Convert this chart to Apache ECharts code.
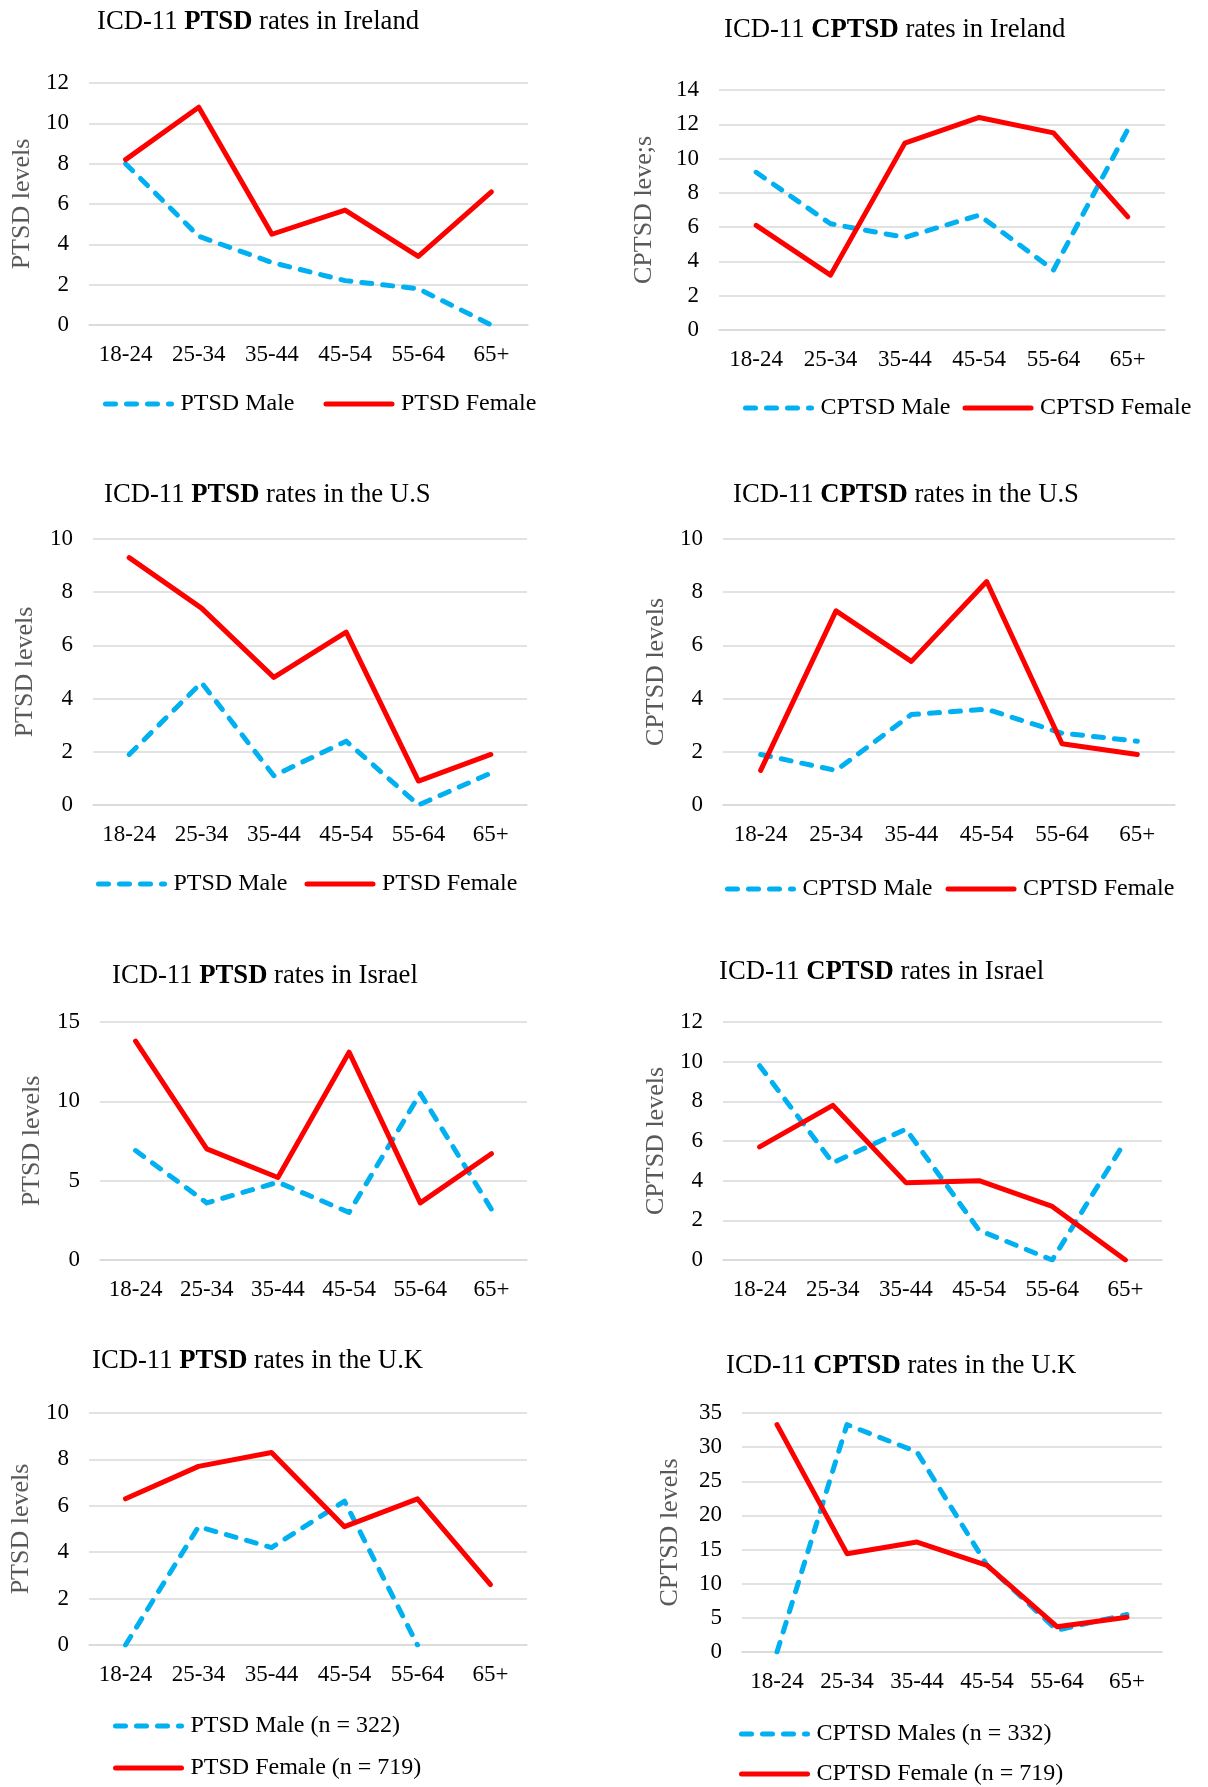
<!DOCTYPE html>
<html>
<head>
<meta charset="utf-8">
<script src="https://cdn.jsdelivr.net/npm/echarts@6/dist/echarts.min.js"></script>
<style>
  html, body { margin: 0; padding: 0; background: #fff; }
  #main { width: 1208px; height: 1787px; }
</style>
</head>
<body>
<div id="main"></div>
<script>
// age groups on the x axis
var ageGroups = ['18-24', '25-34', '35-44', '45-54', '55-64', '65+'];

// Ireland
var irelandPtsdMale = [8.0, 4.4, 3.1, 2.2, 1.8, 0];
var irelandPtsdFemale = [8.2, 10.8, 4.5, 5.7, 3.4, 6.6];
var irelandCptsdMale = [9.2, 6.2, 5.4, 6.7, 3.5, 11.7];
var irelandCptsdFemale = [6.1, 3.2, 10.9, 12.4, 11.5, 6.6];

// U.S
var usPtsdMale = [1.9, 4.6, 1.1, 2.4, 0, 1.2];
var usPtsdFemale = [9.3, 7.4, 4.8, 6.5, 0.9, 1.9];
var usCptsdMale = [1.9, 1.3, 3.4, 3.6, 2.7, 2.4];
var usCptsdFemale = [1.3, 7.3, 5.4, 8.4, 2.3, 1.9];

// Israel
var israelPtsdMale = [6.9, 3.6, 4.9, 3.0, 10.5, 3.2];
var israelPtsdFemale = [13.8, 7.0, 5.2, 13.1, 3.6, 6.7];
var israelCptsdMale = [9.8, 4.9, 6.6, 1.5, 0, 6.0];
var israelCptsdFemale = [5.7, 7.8, 3.9, 4.0, 2.7, 0];

// U.K
var ukPtsdMale = [0, 5.1, 4.2, 6.2, 0, null];
var ukPtsdFemale = [6.3, 7.7, 8.3, 5.1, 6.3, 2.6];
var ukCptsdMale = [0, 33.3, 29.3, 12.7, 3.2, 5.5];
var ukCptsdFemale = [33.3, 14.4, 16.1, 12.7, 3.7, 5.1];

var FONT = '"Liberation Serif", "Times New Roman", serif';
var BLUE = '#00B0F0';
var RED = '#FF0000';

// layout of each of the 8 small charts (pixels)
var panels = [
  { title: 'ICD-11 {b|PTSD} rates in Ireland', tx: 97, ty: 22, grid: [89, 83, 439, 242],
    yMax: 12, yStep: 2, yName: 'PTSD levels', nameGap: 54,
    male: irelandPtsdMale, female: irelandPtsdFemale, maleName: 'PTSD Male', femaleName: 'PTSD Female',
    legend: { left: 103, y: 406, gap: 29 } },
  { title: 'ICD-11 {b|CPTSD} rates in Ireland', tx: 724, ty: 30, grid: [719, 90, 446, 240],
    yMax: 14, yStep: 2, yName: 'CPTSD leve;s', nameGap: 62,
    male: irelandCptsdMale, female: irelandCptsdFemale, maleName: 'CPTSD Male', femaleName: 'CPTSD Female',
    legend: { left: 743, y: 410, gap: 12 } },
  { title: 'ICD-11 {b|PTSD} rates in the U.S', tx: 104, ty: 495, grid: [93, 539, 434, 266],
    yMax: 10, yStep: 2, yName: 'PTSD levels', nameGap: 55,
    male: usPtsdMale, female: usPtsdFemale, maleName: 'PTSD Male', femaleName: 'PTSD Female',
    legend: { left: 96, y: 886, gap: 17 } },
  { title: 'ICD-11 {b|CPTSD} rates in the U.S', tx: 733, ty: 495, grid: [723, 539, 452, 266],
    yMax: 10, yStep: 2, yName: 'CPTSD levels', nameGap: 54,
    male: usCptsdMale, female: usCptsdFemale, maleName: 'CPTSD Male', femaleName: 'CPTSD Female',
    legend: { left: 725, y: 891, gap: 13 } },
  { title: 'ICD-11 {b|PTSD} rates in Israel', tx: 112, ty: 976, grid: [100, 1022, 427, 238],
    yMax: 15, yStep: 5, yName: 'PTSD levels', nameGap: 55,
    male: israelPtsdMale, female: israelPtsdFemale, maleName: 'PTSD Male', femaleName: 'PTSD Female',
    legend: null },
  { title: 'ICD-11 {b|CPTSD} rates in Israel', tx: 719, ty: 972, grid: [723, 1022, 439, 238],
    yMax: 12, yStep: 2, yName: 'CPTSD levels', nameGap: 54,
    male: israelCptsdMale, female: israelCptsdFemale, maleName: 'CPTSD Male', femaleName: 'CPTSD Female',
    legend: null },
  { title: 'ICD-11 {b|PTSD} rates in the U.K', tx: 92, ty: 1361, grid: [89, 1413, 438, 232],
    yMax: 10, yStep: 2, yName: 'PTSD levels', nameGap: 55,
    male: ukPtsdMale, female: ukPtsdFemale, maleName: 'PTSD Male (n = 322)', femaleName: 'PTSD Female (n = 719)',
    legend: { left: 113, y: 1728, gap: 18, vertical: true } },
  { title: 'ICD-11 {b|CPTSD} rates in the U.K', tx: 726, ty: 1366, grid: [742, 1413, 420, 239],
    yMax: 35, yStep: 5, yName: 'CPTSD levels', nameGap: 59,
    male: ukCptsdMale, female: ukCptsdFemale, maleName: 'CPTSD Males (n = 332)', femaleName: 'CPTSD Female (n = 719)',
    legend: { left: 739, y: 1736, gap: 16, vertical: true } }
];

var option = {
  backgroundColor: '#fff',
  animation: false,
  title: [], grid: [], xAxis: [], yAxis: [], legend: [], series: []
};

panels.forEach(function (p, i) {
  option.title.push({
    text: p.title,
    left: p.tx,
    top: p.ty - 15,
    padding: 0,
    textStyle: {
      fontFamily: FONT, fontSize: 26.7, fontWeight: 'normal', color: '#000', lineHeight: 30,
      rich: { b: { fontFamily: FONT, fontSize: 26.7, fontWeight: 'bold', color: '#000', lineHeight: 30 } }
    }
  });
  option.grid.push({ left: p.grid[0], top: p.grid[1], width: p.grid[2], height: p.grid[3], containLabel: false });
  option.xAxis.push({
    type: 'category', gridIndex: i, data: ageGroups, boundaryGap: true,
    axisLine: { show: true, lineStyle: { color: '#D9D9D9', width: 1.5 } },
    axisTick: { show: false },
    axisLabel: { fontFamily: FONT, fontSize: 23, color: '#000', margin: 18, interval: 0 }
  });
  option.yAxis.push({
    type: 'value', gridIndex: i, min: 0, max: p.yMax, interval: p.yStep,
    name: p.yName, nameLocation: 'middle', nameGap: p.nameGap, nameRotate: 90,
    nameTextStyle: { fontFamily: FONT, fontSize: 26, color: '#595959' },
    axisLine: { show: false }, axisTick: { show: false },
    axisLabel: { fontFamily: FONT, fontSize: 23, color: '#000', margin: 20 },
    splitLine: { lineStyle: { color: '#D9D9D9', width: 1.5 } }
  });
  option.series.push({
    name: p.maleName, type: 'line', xAxisIndex: i, yAxisIndex: i, data: p.male,
    symbol: 'none', color: BLUE, z: 2,
    lineStyle: { color: BLUE, width: 5, type: [10, 11], cap: 'round', join: 'round' }
  });
  option.series.push({
    name: p.femaleName, type: 'line', xAxisIndex: i, yAxisIndex: i, data: p.female,
    symbol: 'none', color: RED, z: 3,
    lineStyle: { color: RED, width: 5, cap: 'round', join: 'round' }
  });
  if (p.legend) {
    option.legend.push({
      data: [p.maleName, p.femaleName],
      left: p.legend.left,
      top: p.legend.y - 14,
      orient: p.legend.vertical ? 'vertical' : 'horizontal',
      itemGap: p.legend.gap,
      itemWidth: 66, itemHeight: 14,
      padding: 0,
      selectedMode: false,
      itemStyle: { opacity: 0, borderWidth: 0 },
      lineStyle: { width: 5, cap: 'round' },
      textStyle: { fontFamily: FONT, fontSize: 24, color: '#000', padding: [0, 0, 0, 4] }
    });
  }
});

var chart = echarts.init(document.getElementById('main'));
chart.setOption(option);
</script>
</body>
</html>
